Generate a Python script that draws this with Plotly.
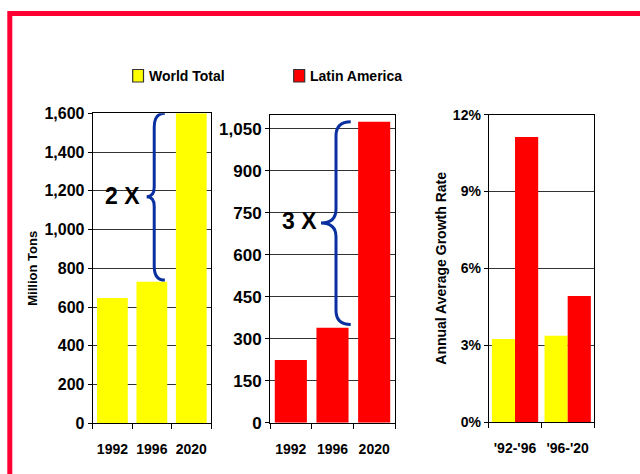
import plotly.graph_objects as go

# ---- data ----
years = ["1992", "1996", "2020"]
world_total = [647, 731, 1600]          # million tons
latin_america = [224, 339, 1075]        # million tons
periods = ["'92-'96", "'96-'20"]
world_growth = [3.24, 3.37]             # % annual average growth
latin_growth = [11.13, 4.92]
series_names = ["World Total", "Latin America"]
left_ticks = [0, 200, 400, 600, 800, 1000, 1200, 1400, 1600]
mid_ticks = [0, 150, 300, 450, 600, 750, 900, 1050]
right_ticks = [0, 3, 6, 9, 12]
right_tick_text = ["0%", "3%", "6%", "9%", "12%"]
multipliers = ["2 X", "3 X"]

YELLOW = "#FFFF00"
RED = "#FF0000"
BRACE = "#0A2FA0"
BORDER = "#FF0033"
FONT = "Arial, Liberation Sans, sans-serif"
W, H = 640, 474

def px(x):
    return x / W

def py(y):
    return 1 - y / H

fig = go.Figure()

fig.add_trace(go.Bar(x=years, y=world_total, marker_color=YELLOW, marker_line_width=0,
                     width=0.78, xaxis="x", yaxis="y", showlegend=False, name=series_names[0]))
fig.add_trace(go.Bar(x=years, y=latin_america, marker_color=RED, marker_line_width=0,
                     width=0.77, xaxis="x2", yaxis="y2", showlegend=False, name=series_names[1]))
fig.add_trace(go.Bar(x=periods, y=world_growth, marker_color=YELLOW, marker_line_width=0,
                     width=0.44, offset=-0.44, xaxis="x3", yaxis="y3", showlegend=False,
                     name=series_names[0]))
fig.add_trace(go.Bar(x=periods, y=latin_growth, marker_color=RED, marker_line_width=0,
                     width=0.44, offset=0.0, xaxis="x3", yaxis="y3", showlegend=False,
                     name=series_names[1]))

xcommon = dict(type="category", showline=True, linecolor="black", linewidth=1, mirror=True,
               ticks="outside", ticklen=5, tickcolor="black", tickson="boundaries",
               showgrid=False, tickangle=0, automargin=False,
               tickfont=dict(family=FONT, size=14, color="black", weight="bold"),
               ticklabelstandoff=13, fixedrange=True)
ycommon = dict(showline=True, linecolor="black", linewidth=1, mirror=True,
               ticks="outside", ticklen=4, tickcolor="black", showgrid=True,
               gridcolor="#333333", gridwidth=1, zeroline=False, fixedrange=True,
               automargin=False, ticklabelstandoff=0)

fig.update_layout(
    template="none",
    width=W, height=H, margin=dict(l=0, r=0, t=0, b=0, autoexpand=False),
    paper_bgcolor="white", plot_bgcolor="white", barmode="overlay",
    hovermode=False,
    font=dict(family=FONT, color="black"),
    xaxis=dict(domain=[px(92.7), px(211)], anchor="y", **xcommon),
    yaxis=dict(domain=[py(423.3), py(113.3)], anchor="x", range=[0, 1600],
               tickvals=left_ticks, tickformat=",",
               tickfont=dict(family=FONT, size=16, color="black", weight="bold"),
               title=dict(text="<b>Million Tons</b>", font=dict(family=FONT, size=13), standoff=3),
               **ycommon),
    xaxis2=dict(domain=[px(270), px(395)], anchor="y2", **xcommon),
    yaxis2=dict(domain=[py(422.7), py(114.7)], anchor="x2", range=[0, 1100],
                tickvals=mid_ticks, tickformat=",",
                tickfont=dict(family=FONT, size=17, color="black", weight="bold"), **ycommon),
    xaxis3=dict(domain=[px(488.7), px(594)], anchor="y3", **xcommon),
    yaxis3=dict(domain=[py(422), py(114.7)], anchor="x3", range=[0, 12],
                tickvals=right_ticks, ticktext=right_tick_text,
                tickfont=dict(family=FONT, size=14, color="black", weight="bold"),
                title=dict(text="<b>Annual Average Growth Rate</b>",
                           font=dict(family=FONT, size=14), standoff=2),
                **ycommon),
)


def brace_path(xe, xv, xt, ytop, ybot, r, r2):
    ymid = (ytop + ybot) / 2
    return (f"M {xe},{ytop} Q {xv},{ytop} {xv},{ytop - r} "
            f"L {xv},{ymid + r2} Q {xv},{ymid} {xt},{ymid} "
            f"Q {xv},{ymid} {xv},{ymid - r2} "
            f"L {xv},{ybot + r} Q {xv},{ybot} {xe},{ybot}")

shapes = []
# braces
shapes.append(dict(type="path", xref="x domain", yref="y",
                   path=brace_path(0.61, 0.52, 0.456, world_total[2], world_total[1] + 8, 72, 50),
                   line=dict(color=BRACE, width=3)))
shapes.append(dict(type="path", xref="x2 domain", yref="y2",
                   path=brace_path(0.646, 0.528, 0.408, latin_america[2], latin_america[1] + 12, 50, 50),
                   line=dict(color=BRACE, width=3)))
# outer red frame
shapes.append(dict(type="rect", xref="paper", yref="paper",
                   x0=px(9.8), x1=px(660), y0=py(500), y1=py(13.5),
                   line=dict(color=BORDER, width=5), layer="above"))
# legend boxes
shapes.append(dict(type="rect", xref="paper", yref="paper",
                   x0=px(132.7), x1=px(143.5), y0=py(82), y1=py(69.5),
                   fillcolor=YELLOW, line=dict(color="#333333", width=1.2)))
shapes.append(dict(type="rect", xref="paper", yref="paper",
                   x0=px(293.7), x1=px(304.7), y0=py(82), y1=py(69.5),
                   fillcolor=RED, line=dict(color="#333333", width=1.2)))
fig.update_layout(shapes=shapes)

annotations = [
    dict(text=f"<b>{series_names[0]}</b>", xref="paper", yref="paper", x=px(147), y=py(76),
         xanchor="left", yanchor="middle", showarrow=False, font=dict(family=FONT, size=14)),
    dict(text=f"<b>{series_names[1]}</b>", xref="paper", yref="paper", x=px(308), y=py(76),
         xanchor="left", yanchor="middle", showarrow=False, font=dict(family=FONT, size=14)),
    dict(text=f"<b>{multipliers[0]}</b>", xref="x domain", yref="y", x=0.254,
         y=(world_total[2] + world_total[1]) / 2 + 8, xanchor="center", yanchor="middle",
         showarrow=False, font=dict(family=FONT, size=23)),
    dict(text=f"<b>{multipliers[1]}</b>", xref="x2 domain", yref="y2", x=0.232,
         y=(latin_america[2] + latin_america[1]) / 2 + 12, xanchor="center", yanchor="middle",
         showarrow=False, font=dict(family=FONT, size=23)),
]
fig.update_layout(annotations=annotations)

fig.write_html("out.html", config={"displayModeBar": False},
               post_script="document.body.style.margin='0';document.body.style.overflow='hidden';")
